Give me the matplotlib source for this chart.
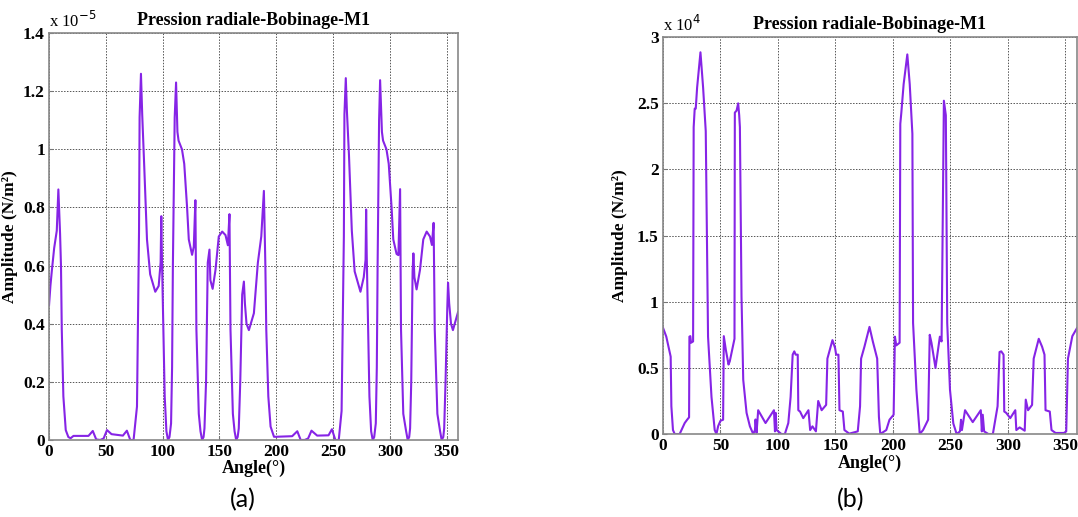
import matplotlib
matplotlib.use("Agg")
import matplotlib.pyplot as plt
from matplotlib.ticker import FuncFormatter

# (a) radial pressure, winding: (angle in deg, amplitude in units of 1e-5 N/m2)
points_a = [
    (0, 0.464), (1.2, 0.53), (2.4, 0.58), (4.5, 0.66), (6.8, 0.72), (8.2, 0.862),
    (9.7, 0.71), (10.5, 0.6), (11.2, 0.38), (12.6, 0.15), (14.7, 0.034), (17, 0.01),
    (19, 0.006), (21.5, 0.014), (34.7, 0.014), (38.5, 0.031), (41.5, 0.002), (45, 0),
    (48, 0.005), (51, 0.034), (55, 0.02), (65, 0.015), (68.5, 0.032), (71.5, 0), (74.4, 0),
    (77.4, 0.115), (79.2, 0.72), (79.7, 1.11), (80.9, 1.26), (82, 1.12), (83.8, 0.94),
    (86.2, 0.69), (89, 0.57), (93.5, 0.51), (96.5, 0.53), (98.2, 0.61), (98.8, 0.77),
    (99.3, 0.64), (101.8, 0.15), (103.3, 0.03), (104.7, 0), (106, 0.01), (107.4, 0.057),
    (108.3, 0.25), (109, 0.6), (110.6, 1.11), (111.8, 1.23), (113, 1.06), (114, 1.03),
    (117, 1.0), (119, 0.95), (121.5, 0.8), (123, 0.69), (125.9, 0.637), (127.4, 0.665),
    (128.8, 0.825), (129.7, 0.38), (131.8, 0.09), (133.3, 0.03), (134.7, 0), (136, 0.01),
    (136.8, 0.04), (138.2, 0.2), (139.7, 0.61), (141.2, 0.655), (142, 0.55), (144, 0.52),
    (146.5, 0.585), (149.4, 0.7), (152.4, 0.717), (155.3, 0.705), (157.4, 0.67),
    (158.8, 0.777), (159.7, 0.38), (161.8, 0.09), (163.3, 0.03), (164.7, 0), (166, 0.01),
    (167, 0.04), (168.3, 0.2), (170, 0.5), (171.5, 0.545), (172.4, 0.47), (173.8, 0.4),
    (175.9, 0.378), (180.3, 0.436), (183.8, 0.61), (186.8, 0.7), (189.1, 0.857),
    (190.4, 0.6), (191.2, 0.38), (193, 0.15), (195, 0.046), (198, 0.011), (200, 0.011),
    (214, 0.013), (218.5, 0.03), (221.5, 0), (225, 0), (228, 0.005), (231, 0.032),
    (236, 0.015), (246, 0.016), (249, 0.037), (252, 0), (255, 0), (257.5, 0.1),
    (259.5, 0.7), (260, 1.12), (261.2, 1.245), (262.2, 1.13), (264, 0.98), (266.5, 0.72),
    (269, 0.58), (274.1, 0.51), (277, 0.56), (278.6, 0.62), (279.1, 0.793), (279.6, 0.64),
    (282, 0.15), (283.5, 0.03), (284.9, 0), (286.2, 0.01), (287.6, 0.057), (288.5, 0.25),
    (289.2, 0.6), (290.5, 1.1), (291.4, 1.238), (293, 1.06), (294, 1.03), (297, 1.0),
    (299, 0.95), (301.5, 0.8), (303, 0.69), (305.9, 0.64), (307.5, 0.636), (309, 0.863),
    (309.8, 0.38), (311.8, 0.09), (314.3, 0.03), (315.7, 0), (317, 0.01), (317.8, 0.04),
    (318.8, 0.2), (320, 0.58), (320.7, 0.642), (321.6, 0.56), (323.5, 0.518),
    (326.5, 0.585), (329.4, 0.69), (332.4, 0.717), (335.3, 0.7), (337, 0.671),
    (338.5, 0.747), (339.5, 0.38), (341.8, 0.09), (344.2, 0.03), (345.6, 0), (347, 0.01),
    (347.8, 0.04), (349, 0.2), (350.5, 0.45), (351.2, 0.541), (352.2, 0.47), (353.8, 0.4),
    (355.5, 0.378), (360, 0.44),
]
angle_a = [p[0] for p in points_a]
value_a = [p[1] for p in points_a]

# (b) radial pressure, values in units of 1e4 N/m2
angle_b = [0, 2.9, 5.8, 6.7, 7.3, 8.7, 10.2, 14.5, 18.9, 21, 22.7, 23, 23.8, 24.4, 26.2,
           26.7, 27.6, 28.5, 29.7, 32.6, 34.9, 37.2, 38.2, 39.2, 42.2, 45, 46.5, 48, 50, 52.3,
           52.9, 54.7, 57, 58.1, 61, 62.2, 62.5, 64, 65.4, 66.3, 66.9, 68.3, 69.8, 72.7, 75.6,
           78.5, 80, 80.5, 81.4, 82.8, 89.2, 96.5, 97.4, 98, 98.8, 103, 106, 109, 111, 112.8,
           114.2, 115.4, 117.2, 117.7, 119.2, 122, 126.5, 128, 130, 133, 135, 138, 141.9, 143,
           147.4, 149.7, 150.6, 152.6, 153.5, 156.4, 157.8, 162, 169.4, 171.4, 172.3, 175.2,
           179.6, 182.5, 186.3, 187.8, 189, 194.2, 197, 200.6, 201.7, 202.9, 205.8, 206.4,
           207.3, 209.3, 212.5, 214.6, 216.9, 217.5, 220.4, 223.3, 226.2, 230.6, 232, 233.5,
           237, 240.8, 242.3, 244.3, 246, 247.2, 249.6, 252.5, 255.4, 258.3, 259.2, 260,
           262.7, 269.4, 276.4, 277.3, 278.1, 279.3, 283, 286.9, 291, 292.7, 294.2, 296.2,
           296.8, 298.5, 302, 306.4, 307.3, 310.2, 314.6, 315.5, 317.5, 321, 322.4, 326.8,
           329.7, 331.8, 332.7, 336.4, 337.9, 341.4, 348.7, 350.7, 352.2, 356, 360]
value_b = [0.804, 0.736, 0.623, 0.585, 0.21, 0.03, 0.0, 0.0, 0.083, 0.108, 0.126, 0.736, 0.74,
           0.69, 0.7, 2.32, 2.46, 2.46, 2.62, 2.886, 2.62, 2.29, 1.54, 0.736, 0.28, 0.03, 0.0,
           0.06, 0.1, 0.108, 0.74, 0.635, 0.525, 0.55, 0.67, 0.72, 2.43, 2.445, 2.5, 2.41, 2.32,
           1.04, 0.41, 0.16, 0.058, 0.0, 0.03, 0.11, 0.01, 0.18, 0.083, 0.18, 0.02, 0.16, 0.03,
           0.0, 0.0, 0.083, 0.28, 0.6, 0.625, 0.6, 0.6, 0.18, 0.17, 0.12, 0.18, 0.03, 0.058,
           0.02, 0.25, 0.18, 0.22, 0.57, 0.71, 0.65, 0.6, 0.6, 0.18, 0.17, 0.03, 0.003, 0.02,
           0.21, 0.57, 0.66, 0.81, 0.7, 0.57, 0.13, 0.0, 0.03, 0.108, 0.146, 0.736, 0.67, 0.69,
           2.345, 2.43, 2.645, 2.87, 2.645, 2.27, 0.84, 0.335, 0.0, 0.03, 0.108, 0.75, 0.69,
           0.5, 0.736, 0.7, 2.52, 2.41, 0.84, 0.335, 0.08, 0.0, 0.02, 0.108, 0.03, 0.18, 0.09,
           0.18, 0.02, 0.146, 0.02, 0.0, 0.0, 0.21, 0.62, 0.625, 0.6, 0.17, 0.16, 0.12, 0.18,
           0.03, 0.05, 0.025, 0.26, 0.18, 0.22, 0.57, 0.72, 0.66, 0.6, 0.18, 0.17, 0.03, 0.008,
           0.008, 0.02, 0.57, 0.74, 0.8]

x_ticks = [0, 50, 100, 150, 200, 250, 300, 350]
yticks_a = [0, 0.2, 0.4, 0.6, 0.8, 1.0, 1.2, 1.4]
yticks_b = [0, 0.5, 1.0, 1.5, 2.0, 2.5, 3.0]

title = "Pression radiale-Bobinage-M1"
line_color = "#8624e6"
serif = "Liberation Serif"

fig = plt.figure(figsize=(10.78, 5.17), dpi=100)
ax_a = fig.add_axes([0.0455, 0.149, 0.3794, 0.787])
ax_b = fig.add_axes([0.615, 0.1605, 0.384, 0.7675])


def style_axes(ax, yticks, ymax, exponent, ylabel_x):
    ax.set_xlim(0, 360)
    ax.set_ylim(0, ymax)
    ax.set_xticks(x_ticks)
    ax.set_yticks(yticks)
    ax.yaxis.set_major_formatter(FuncFormatter(lambda v, p: "%g" % v))
    ax.grid(True, linestyle=(0, (1.5, 1.5)), color="#555555", linewidth=0.7)
    ax.tick_params(direction="in", length=3, color="#777777", pad=3)
    for lab in ax.get_xticklabels() + ax.get_yticklabels():
        lab.set_fontfamily(serif)
        lab.set_fontweight("bold")
        lab.set_fontsize(12.5)
    for sp in ax.spines.values():
        sp.set_color("#888888")
        sp.set_linewidth(1.2)
    ax.set_xlabel("Angle(°)", family=serif, fontweight="bold", fontsize=13, labelpad=0)
    ax.set_ylabel("Amplitude (N/m²)", family=serif, fontweight="bold", fontsize=12.5)
    ax.yaxis.set_label_coords(ylabel_x, 0.5)
    ax.set_title(title, family=serif, fontweight="bold", fontsize=13, pad=6)
    ax.text(0.0, 1.005, r"x 10$^{%s}$" % exponent, transform=ax.transAxes,
            family=serif, fontsize=12, ha="left", va="bottom")


ax_a.plot(angle_a, value_a, color=line_color, linewidth=1.5)
style_axes(ax_a, yticks_a, 1.4, "-5", -0.075)
ax_b.plot(angle_b, value_b, color=line_color, linewidth=1.5)
style_axes(ax_b, yticks_b, 3.0, "4", -0.085)

fig.text(0.2255, 0.033, "(a)", family="Lato", fontsize=18, ha="center", va="center")
fig.text(0.789, 0.033, "(b)", family="Lato", fontsize=18, ha="center", va="center")

fig.savefig("out.png", dpi=100)
